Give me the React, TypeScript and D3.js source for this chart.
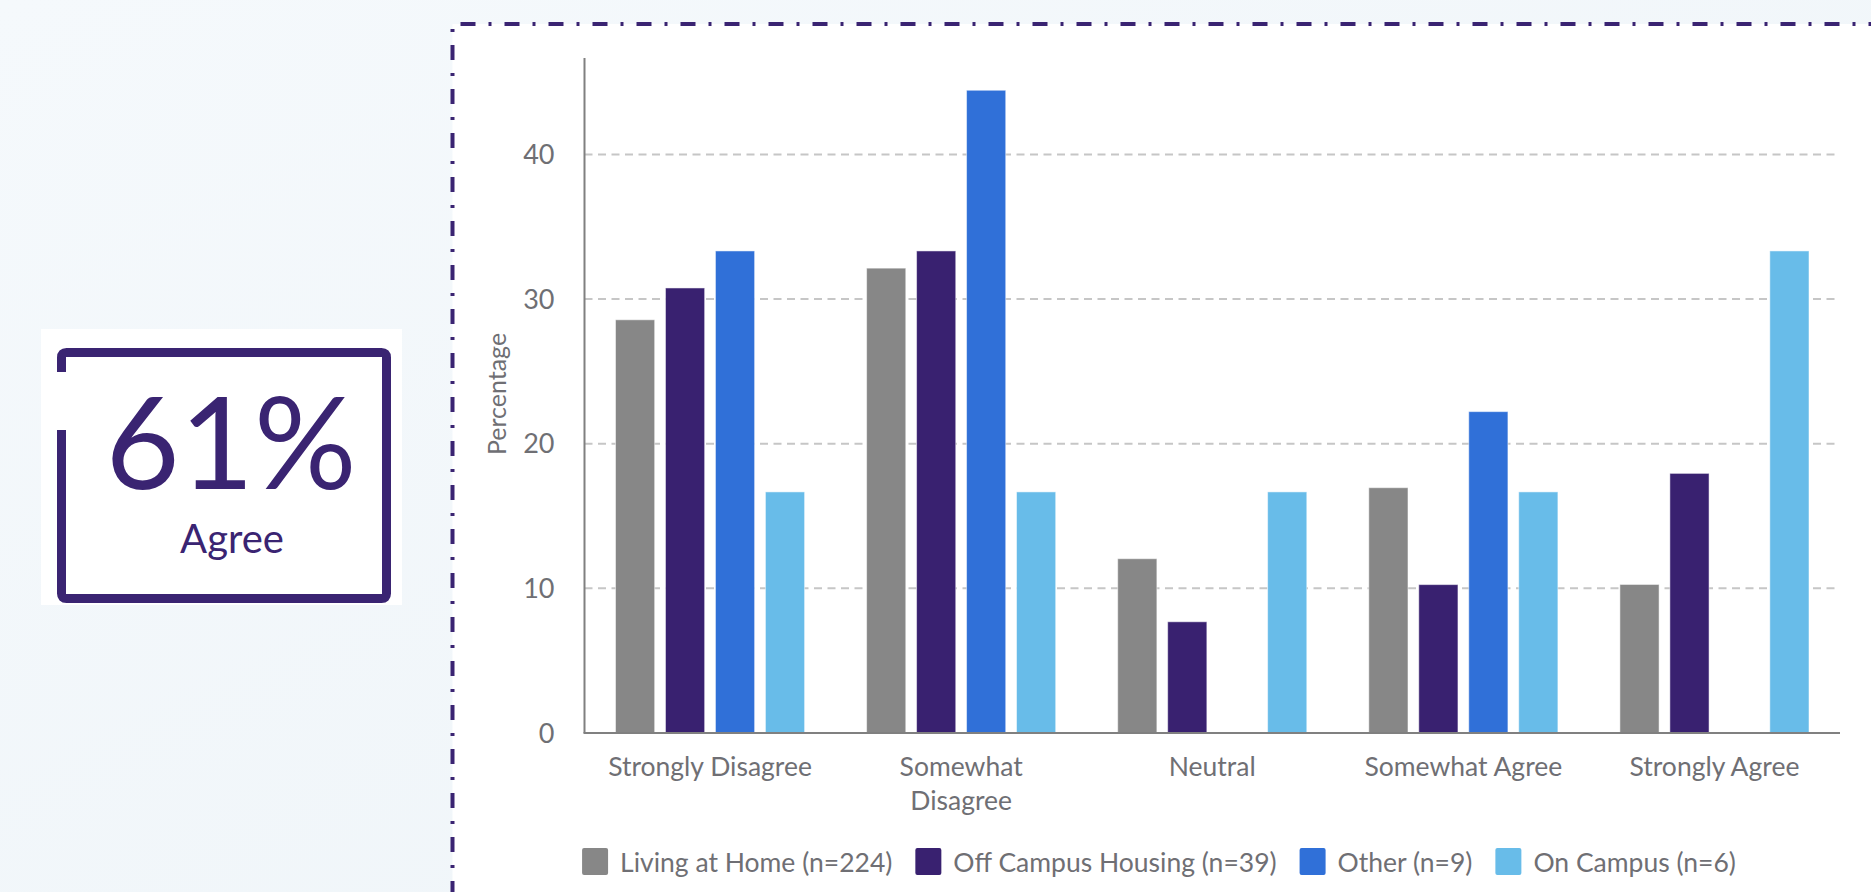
// Grouped bar chart: agreement by living situation, with a "61% Agree" callout box.
import { useEffect, useRef } from "react";
import * as d3 from "d3";

const categories = ["Strongly Disagree", "Somewhat Disagree", "Neutral", "Somewhat Agree", "Strongly Agree"];
const categoryLabels = ["Strongly Disagree", "Somewhat\nDisagree", "Neutral", "Somewhat Agree", "Strongly Agree"];
const seriesNames = ["Living at Home (n=224)", "Off Campus Housing (n=39)", "Other (n=9)", "On Campus (n=6)"];
const livingAtHome = [28.57, 32.14, 12.05, 16.96, 10.27];
const offCampus = [30.77, 33.33, 7.69, 10.26, 17.95];
const other = [33.33, 44.44, 0, 22.22, 0];
const onCampus = [16.67, 16.67, 16.67, 16.67, 33.33];
const yTicks = [0, 10, 20, 30, 40];
const yMax = 46.67;
const calloutValue = "61%";
const calloutLabel = "Agree";

const SERIES_COLORS = ["#878787", "#392170", "#3070d8", "#68bce9"];
const PURPLE = "#3a2472";
const INK = "#6f6f74";
const FONT = "Lato, 'Open Sans', sans-serif";

export default function App() {
  const hostRef = useRef<SVGSVGElement>(null);

  useEffect(() => {
    const host = hostRef.current;
    if (!host) return;
    const W = 1871;
    const H = 892;
    const svg = d3.select(host);
    svg.selectAll("*").remove();

    // page background + gradient
    const defs = svg.append("defs");
    const grad = defs
      .append("linearGradient")
      .attr("id", "bg")
      .attr("x1", "0")
      .attr("y1", "0")
      .attr("x2", "1")
      .attr("y2", "1");
    grad.append("stop").attr("offset", "0").attr("stop-color", "#f5f9fc");
    grad.append("stop").attr("offset", "1").attr("stop-color", "#eef4f8");
    svg.append("rect").attr("width", W).attr("height", H).attr("fill", "url(#bg)");

    // white panel framed by a dash-dot border
    const panel = { x: 452.5, y: 24 };
    svg
      .append("rect")
      .attr("x", panel.x)
      .attr("y", panel.y)
      .attr("width", W - panel.x + 10)
      .attr("height", H - panel.y + 10)
      .attr("fill", "#ffffff");
    svg
      .append("path")
      .attr("d", `M${panel.x},${H + 4}V${panel.y}H${W + 4}`)
      .attr("fill", "none")
      .attr("stroke", PURPLE)
      .attr("stroke-width", 4)
      .attr("stroke-dasharray", "15 13 3 13");

    // ---- callout box
    const box = { x: 61.5, y: 352.5, w: 325, h: 246 };
    svg
      .append("rect")
      .attr("x", 41)
      .attr("y", 329)
      .attr("width", 361)
      .attr("height", 276)
      .attr("fill", "#ffffff");
    const r = 5;
    const gapTop = 372;
    const gapBottom = 430;
    svg
      .append("path")
      .attr(
        "d",
        `M${box.x},${gapTop}V${box.y + r}Q${box.x},${box.y} ${box.x + r},${box.y}` +
          `H${box.x + box.w - r}Q${box.x + box.w},${box.y} ${box.x + box.w},${box.y + r}` +
          `V${box.y + box.h - r}Q${box.x + box.w},${box.y + box.h} ${box.x + box.w - r},${box.y + box.h}` +
          `H${box.x + r}Q${box.x},${box.y + box.h} ${box.x},${box.y + box.h - r}V${gapBottom}`
      )
      .attr("fill", "none")
      .attr("stroke", PURPLE)
      .attr("stroke-width", 9);
    svg
      .append("text")
      .attr("x", 231)
      .attr("y", 489)
      .attr("text-anchor", "middle")
      .attr("fill", PURPLE)
      .attr("font-family", FONT)
      .attr("font-size", 128)
      .text(calloutValue);
    svg
      .append("text")
      .attr("x", 232)
      .attr("y", 553)
      .attr("text-anchor", "middle")
      .attr("fill", PURPLE)
      .attr("font-family", FONT)
      .attr("font-size", 40)
      .text(calloutLabel);

    // ---- chart
    const plot = { left: 584.5, right: 1840, top: 58, bottom: 733 };
    const x = d3.scaleBand<string>().domain(categories).range([plot.left, plot.right]).padding(0);
    const xi = d3
      .scaleBand<string>()
      .domain(seriesNames)
      .range([31, x.bandwidth() - 31])
      .paddingInner(0.216);
    const y = d3.scaleLinear().domain([0, yMax]).range([plot.bottom, plot.top]);

    const g = svg.append("g");

    // dashed gridlines
    g.append("g")
      .selectAll("line")
      .data(yTicks.filter((t) => t > 0))
      .join("line")
      .attr("x1", plot.left)
      .attr("x2", plot.right)
      .attr("y1", (d) => y(d))
      .attr("y2", (d) => y(d))
      .attr("stroke", "#c6c6c6")
      .attr("stroke-width", 2)
      .attr("stroke-dasharray", "8 5.5");

    // y tick labels
    g.append("g")
      .selectAll("text")
      .data(yTicks)
      .join("text")
      .attr("x", plot.left - 30)
      .attr("y", (d) => y(d))
      .attr("dy", "0.36em")
      .attr("text-anchor", "end")
      .attr("fill", INK)
      .attr("font-family", FONT)
      .attr("font-size", 27)
      .text((d) => `${d}`);

    // y axis title
    g.append("text")
      .attr("transform", `translate(${506},${394}) rotate(-90)`)
      .attr("text-anchor", "middle")
      .attr("fill", INK)
      .attr("font-family", FONT)
      .attr("font-size", 25)
      .text("Percentage");

    // bars
    const series = [livingAtHome, offCampus, other, onCampus];
    const groups = g
      .append("g")
      .selectAll("g")
      .data(categories)
      .join("g")
      .attr("transform", (d) => `translate(${x(d)},0)`);
    groups
      .selectAll("rect")
      .data((_c, ci) =>
        seriesNames.map((name, si) => ({ name, si, value: series[si][ci] }))
      )
      .join("rect")
      .filter((d) => d.value > 0)
      .attr("x", (d) => xi(d.name) ?? 0)
      .attr("y", (d) => y(d.value))
      .attr("width", xi.bandwidth())
      .attr("height", (d) => y(0) - y(d.value))
      .attr("fill", (d) => SERIES_COLORS[d.si])
      .attr("stroke", "#ffffff")
      .attr("stroke-opacity", 0.5)
      .attr("stroke-width", 1);

    // axis lines
    g.append("line")
      .attr("x1", plot.left)
      .attr("x2", plot.left)
      .attr("y1", plot.top)
      .attr("y2", plot.bottom)
      .attr("stroke", "#808080")
      .attr("stroke-width", 2);
    g.append("line")
      .attr("x1", plot.left - 1)
      .attr("x2", plot.right)
      .attr("y1", plot.bottom)
      .attr("y2", plot.bottom)
      .attr("stroke", "#808080")
      .attr("stroke-width", 2);

    // x tick labels
    g.append("g")
      .selectAll("text")
      .data(categories)
      .join("text")
      .attr("text-anchor", "middle")
      .attr("fill", INK)
      .attr("font-family", FONT)
      .attr("font-size", 26.5)
      .each(function (d, i) {
        const t = d3.select(this);
        const cx = (x(d) ?? 0) + x.bandwidth() / 2;
        categoryLabels[i].split("\n").forEach((line, li) => {
          t.append("tspan").attr("x", cx).attr("y", 776 + li * 34).text(line);
        });
      });

    // legend, centred, laid out by measured text width
    const legend = svg.append("g");
    const items = legend
      .selectAll("g")
      .data(seriesNames)
      .join("g");
    items
      .append("rect")
      .attr("width", 26)
      .attr("height", 27)
      .attr("y", 848)
      .attr("rx", 2)
      .attr("fill", (_d, i) => SERIES_COLORS[i]);
    const labels = items
      .append("text")
      .attr("x", 38)
      .attr("y", 872)
      .attr("fill", INK)
      .attr("font-family", FONT)
      .attr("font-size", 26.5)
      .text((d) => d);
    const widths = labels.nodes().map((n) => (n as SVGTextElement).getComputedTextLength());
    const itemW = widths.map((w) => 38 + w);
    const total = d3.sum(itemW) + 23 * (itemW.length - 1);
    let cursor = 1159 - total / 2;
    items.attr("transform", (_d, i) => {
      const tx = cursor;
      cursor += itemW[i] + 23;
      return `translate(${tx},0)`;
    });
  }, []);

  return (
    <div style={{ position: "fixed", left: 0, top: 0, width: 1871, height: 892, overflow: "hidden" }}>
      <svg ref={hostRef} width={1871} height={892} style={{ display: "block" }} />
    </div>
  );
}
